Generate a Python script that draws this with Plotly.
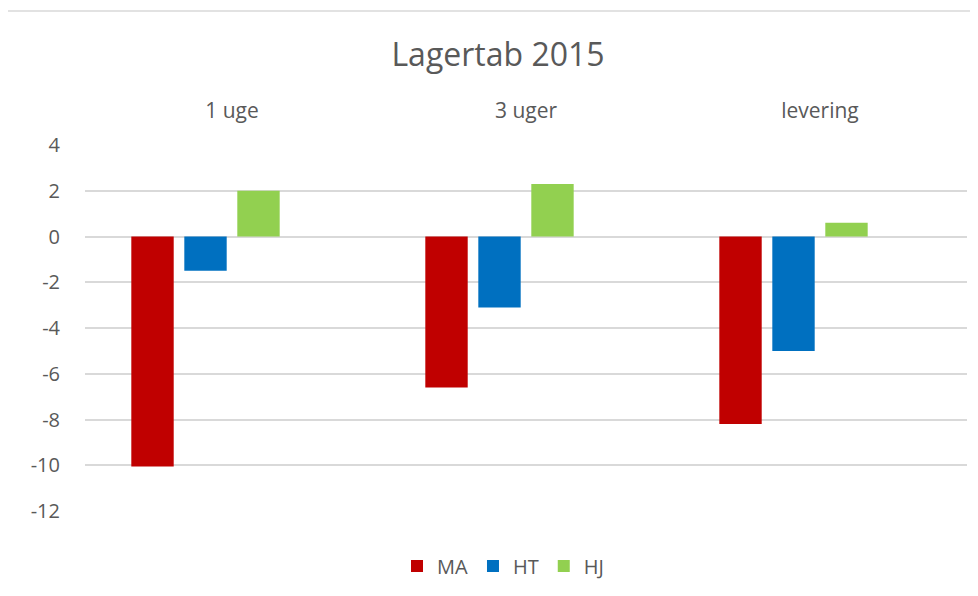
import plotly.graph_objects as go

categories = ["1 uge", "3 uger", "levering"]
series_names = ["MA", "HT", "HJ"]
ma_values = [-10.05, -6.6, -8.2]
ht_values = [-1.5, -3.1, -5.0]
hj_values = [2.0, 2.3, 0.6]
empty_values = [None, None, None]  # an empty fourth series reserves a slot in each group
colors = ["#C00000", "#0070C0", "#92D050"]
y_ticks = [4, 2, 0, -2, -4, -6, -8, -10, -12]
y_tick_labels = ["4", "2", "0", "-2", "-4", "-6", "-8", "-10", "-12"]

font_family = "Open Sans, Liberation Sans, sans-serif"
grey = "#595959"

# page has an 8px body margin, so the figure is drawn at (8, 8)
W, H = 970, 588
L, T = 77, 137
R, B = 11, 85
pw, ph = W - L - R, H - T - B

fig = go.Figure()
for name, vals, col in zip(series_names, [ma_values, ht_values, hj_values], colors):
    fig.add_trace(go.Bar(x=categories, y=vals, name=name, marker=dict(color=col, line=dict(width=0))))
fig.add_trace(go.Bar(x=categories, y=empty_values, name="", showlegend=False,
                     marker=dict(color="rgba(0,0,0,0)", line=dict(width=0)), hoverinfo="skip"))

fig.update_layout(
    width=W, height=H,
    margin=dict(l=L, r=R, t=T, b=B, autoexpand=False),
    paper_bgcolor="white", plot_bgcolor="white",
    barmode="group", bargap=0.279, bargroupgap=0.2,
    title=dict(text="Lagertab 2015", x=0.5 + 5 / W, xanchor="center", y=1 - 47 / H, yanchor="middle",
               font=dict(family=font_family, size=32, color=grey)),
    font=dict(family=font_family, color=grey),
    legend=dict(orientation="h", x=(503 - 85) / pw, xanchor="center", y=-(566 - 511) / ph, yanchor="middle",
                font=dict(size=20, color=grey), itemwidth=30, traceorder="normal"),
    xaxis=dict(side="top", showline=False, showgrid=False, ticks="outside", ticklen=18,
               tickcolor="rgba(0,0,0,0)", tickfont=dict(size=21, color=grey)),
    yaxis=dict(range=[-12, 4], tickvals=y_ticks, ticktext=y_tick_labels, showgrid=True,
               gridcolor="#d9d9d9", gridwidth=1.5,
               zeroline=False, showline=False, ticks="outside", ticklen=20, tickcolor="rgba(0,0,0,0)",
               tickfont=dict(size=20, color=grey)),
    shapes=[dict(type="rect", xref="paper", yref="paper",
                 x0=(4 - 85) / pw, x1=1.05, y0=-0.3, y1=(511 - 11) / ph,
                 line=dict(color="#d9d9d9", width=1.5), fillcolor="rgba(0,0,0,0)", layer="below")],
)

fig.write_html("out.html")
